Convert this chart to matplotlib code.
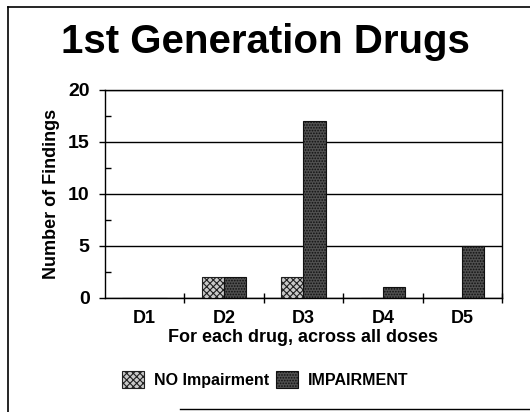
import matplotlib
matplotlib.use("Agg")
import matplotlib.pyplot as plt
import numpy as np
from matplotlib.lines import Line2D

plt.rcParams['font.family'] = ['Liberation Sans', 'DejaVu Sans']
plt.rcParams['hatch.linewidth'] = 0.8

categories = ["D1", "D2", "D3", "D4", "D5"]
no_impairment = [0, 2, 2, 0, 0]
impairment = [0, 2, 17, 1, 5]
series_names = ["NO Impairment", "IMPAIRMENT"]
title = "1st Generation Drugs"
y_ticks = [0, 5, 10, 15, 20]

fig = plt.figure(figsize=(5.30, 4.12), dpi=100)
ax = fig.add_axes([0.198, 0.277, 0.749, 0.505])

x = np.arange(len(categories))
w = 0.28
ax.bar(x - w / 2, no_impairment, w, color="#c8c8c8", edgecolor="#202020",
       hatch="xxxxx", linewidth=0.8, label=series_names[0], zorder=3)
ax.bar(x + w / 2, impairment, w, color="#505050", edgecolor="#101010",
       hatch="......", linewidth=0.8, label=series_names[1], zorder=3)

ax.set_xlim(-0.5, len(categories) - 0.5)
ax.set_ylim(0, 20)
ax.set_yticks(y_ticks)
ax.set_yticks([2.5, 7.5, 12.5, 17.5], minor=True)
ax.yaxis.grid(True, which="major", color="black", linewidth=1.0, zorder=0)
ax.set_axisbelow(True)

ax.set_xticks(x)
ax.set_xticklabels(categories, fontsize=13, fontweight="bold")
ax.set_xticks(np.arange(len(categories)) + 0.5, minor=True)
ax.tick_params(axis="x", which="major", length=0, pad=9)
ax.tick_params(axis="x", which="minor", direction="inout", length=7, width=1)
ax.tick_params(axis="y", which="major", direction="out", length=4, width=1,
               labelsize=14, pad=7)
ax.tick_params(axis="y", which="minor", direction="in", length=4, width=1)
for lab in ax.get_yticklabels():
    lab.set_fontweight("bold")

for s in ax.spines.values():
    s.set_linewidth(1.0)
    s.set_color("black")

ax.set_ylabel("Number of Findings", fontsize=13, fontweight="bold", labelpad=6)
ax.set_xlabel("For each drug, across all doses", fontsize=13, fontweight="bold",
              labelpad=1)

fig.text(0.5, 0.898, title, ha="center", va="center", fontsize=29,
         fontweight="bold")

fig.legend(loc="center", bbox_to_anchor=(0.5, 0.078), ncol=2, frameon=False,
           handlelength=1.4, handleheight=1.25, handletextpad=0.6,
           columnspacing=0.45, prop={"weight": "bold", "size": 11.5})

# outer border
fig.add_artist(Line2D([0.015, 0.015], [0.0, 0.983], transform=fig.transFigure,
                      color="black", linewidth=1.2))
fig.add_artist(Line2D([0.015, 1.0], [0.983, 0.983], transform=fig.transFigure,
                      color="black", linewidth=1.2))
fig.add_artist(Line2D([0.34, 1.0], [0.008, 0.008], transform=fig.transFigure,
                      color="black", linewidth=1.0))

fig.savefig("out.png", dpi=100)
